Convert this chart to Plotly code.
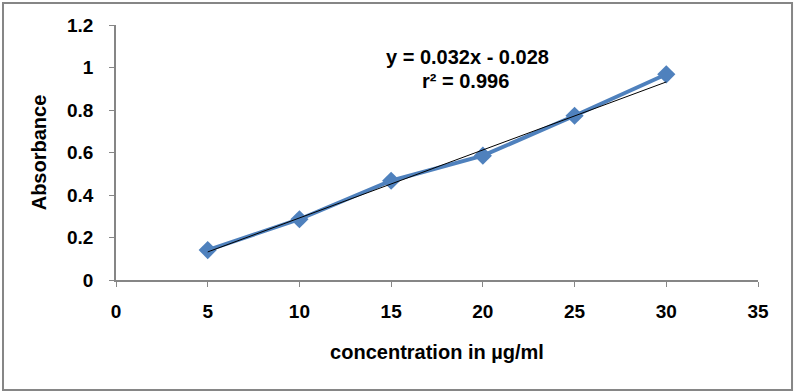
import plotly.graph_objects as go

concentration = [5, 10, 15, 20, 25, 30]
absorbance = [0.141, 0.286, 0.467, 0.585, 0.773, 0.968]
trend_slope = 0.032
trend_intercept = -0.028
equation_text = "y = 0.032x - 0.028"
r2_text = "r² = 0.996"

x_ticks = [0, 5, 10, 15, 20, 25, 30, 35]
y_ticks = [0, 0.2, 0.4, 0.6, 0.8, 1.0, 1.2]
y_tick_labels = ["0", "0.2", "0.4", "0.6", "0.8", "1", "1.2"]

trend_x = [concentration[0], concentration[-1]]
trend_y = [trend_slope * v + trend_intercept for v in trend_x]

FONT = "Liberation Sans, Arial, sans-serif"
GRAY = "#868686"
FS = 19

fig = go.Figure()
fig.add_trace(go.Scatter(
    x=concentration, y=absorbance, mode="lines+markers",
    line=dict(color="#4F81BD", width=4),
    marker=dict(symbol="diamond", size=14, color="#4F81BD"),
    showlegend=False, cliponaxis=False,
))
fig.add_trace(go.Scatter(
    x=trend_x, y=trend_y, mode="lines",
    line=dict(color="black", width=1),
    showlegend=False,
))

fig.add_annotation(x=0.547, y=0.875, xref="paper", yref="paper",
                   text="<b>" + equation_text + "</b>", showarrow=False,
                   font=dict(family=FONT, size=20, color="black"),
                   xanchor="center", yanchor="middle")
fig.add_annotation(x=0.545, y=0.78, xref="paper", yref="paper",
                   text="<b>" + r2_text + "</b>", showarrow=False,
                   font=dict(family=FONT, size=20, color="black"),
                   xanchor="center", yanchor="middle")

# outer chart frame
fig.add_shape(type="rect", xref="paper", yref="paper",
              x0=-0.176, x1=1.053, y0=-0.431, y1=1.086,
              line=dict(color=GRAY, width=2), fillcolor="rgba(0,0,0,0)")

fig.update_layout(
    width=795, height=392,
    margin=dict(l=116, r=37, t=25, b=112),
    paper_bgcolor="white", plot_bgcolor="white",
    font=dict(family=FONT, size=FS, color="black"),
    xaxis=dict(
        range=[0, 35], tickvals=x_ticks, showgrid=False, zeroline=False,
        showline=True, linecolor=GRAY, linewidth=1.5,
        ticks="outside", ticklen=5, tickcolor=GRAY,
        tickfont=dict(family=FONT, size=FS, color="black", weight="bold"),
        ticklabelstandoff=8,
        title=dict(text="<b>concentration in µg/ml</b>", standoff=24,
                   font=dict(family=FONT, size=20, color="black")),
    ),
    yaxis=dict(
        range=[0, 1.2], tickvals=y_ticks, ticktext=y_tick_labels,
        showgrid=False, zeroline=False,
        showline=True, linecolor=GRAY, linewidth=1.5,
        ticks="outside", ticklen=5, tickcolor=GRAY,
        tickfont=dict(family=FONT, size=FS, color="black", weight="bold"),
        ticklabelstandoff=12,
        title=dict(text="<b>Absorbance</b>", standoff=15,
                   font=dict(family=FONT, size=20, color="black")),
    ),
)

fig.write_html("out.html",
               config={"displayModeBar": False},
               post_script="document.body.style.margin='0';document.body.style.padding='0';")
